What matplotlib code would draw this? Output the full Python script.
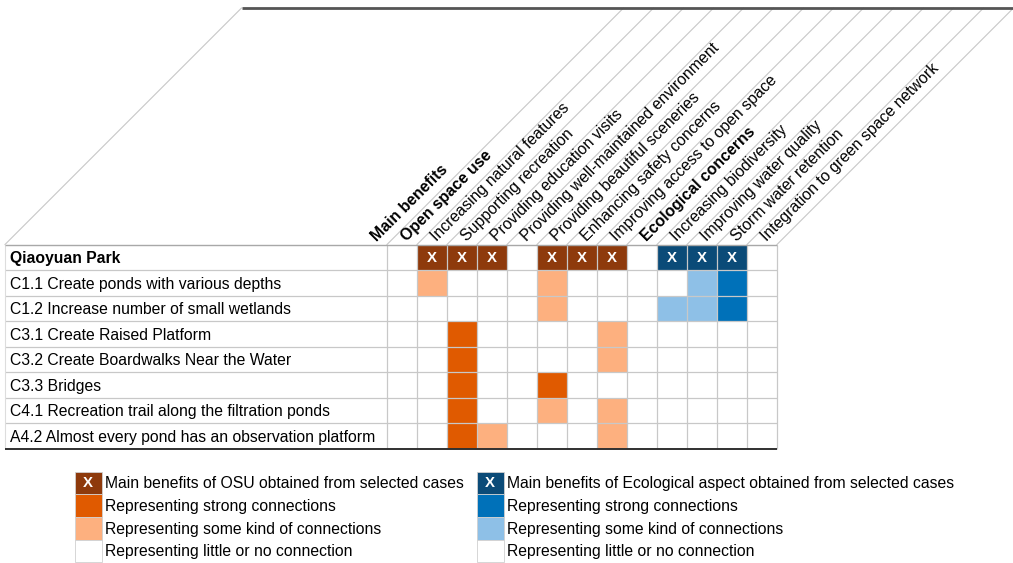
import numpy as np
import matplotlib
matplotlib.use("Agg")
import matplotlib.pyplot as plt
from matplotlib.colors import ListedColormap, BoundaryNorm
from matplotlib.patches import Rectangle

plt.rcParams['font.family'] = ['Liberation Sans', 'DejaVu Sans']

# ---- data ----
headers = ["Main benefits", "Open space use", "Increasing natural features",
           "Supporting recreation", "Providing education visits",
           "Providing well-maintained environment", "Providing beautiful sceneries",
           "Enhancing safety concerns", "Improving access to open space",
           "Ecological concerns", "Increasing biodiversity", "Improving water quality",
           "Storm water retention", "Integration to green space network"]
bold_headers = ["Main benefits", "Open space use", "Ecological concerns"]

row_labels = ["Qiaoyuan Park",
              "C1.1 Create ponds with various depths",
              "C1.2 Increase number of small wetlands",
              "C3.1 Create Raised Platform",
              "C3.2 Create Boardwalks Near the Water",
              "C3.3 Bridges",
              "C4.1 Recreation trail along the filtration ponds",
              "A4.2 Almost every pond has an observation platform"]

# 0 = little/no, 1 = some, 2 = strong, 3 = main benefit (X)
levels = np.array([
    [0, 3, 3, 3, 0, 3, 3, 3, 0, 3, 3, 3, 0],
    [0, 1, 0, 0, 0, 1, 0, 0, 0, 0, 1, 2, 0],
    [0, 0, 0, 0, 0, 1, 0, 0, 0, 1, 1, 2, 0],
    [0, 0, 2, 0, 0, 0, 0, 1, 0, 0, 0, 0, 0],
    [0, 0, 2, 0, 0, 0, 0, 1, 0, 0, 0, 0, 0],
    [0, 0, 2, 0, 0, 2, 0, 0, 0, 0, 0, 0, 0],
    [0, 0, 2, 0, 0, 1, 0, 1, 0, 0, 0, 0, 0],
    [0, 0, 2, 1, 0, 0, 0, 1, 0, 0, 0, 0, 0],
])
# column group: 0 = open space use (orange), 1 = ecological (blue)
col_group = np.array([0, 0, 0, 0, 0, 0, 0, 0, 1, 1, 1, 1, 1])

legend_osu = ["Main benefits of OSU obtained from selected cases",
              "Representing strong connections",
              "Representing some kind of connections",
              "Representing little or no connection"]
legend_eco = ["Main benefits of Ecological aspect obtained from selected cases",
              "Representing strong connections",
              "Representing some kind of connections",
              "Representing little or no connection"]

# ---- colours ----
orange = ['#ffffff', '#fdb07f', '#e05a00', '#8e3a0c']
blue = ['#ffffff', '#8ec0e7', '#0071b9', '#0b4b78']
cmap = ListedColormap(orange + blue[1:])
norm = BoundaryNorm(np.arange(-0.5, 7.5), cmap.N)
cidx = levels + np.where((col_group[None, :] == 1) & (levels > 0), 3, 0)

grid_c = '#c8c8c8'

# ---- layout (pixels) ----
W, H = 1013, 563
tab_l, tab_r, tab_t, tab_b = 387, 777, 244.5, 448.5
left_edge = 5
head_h = 236.5

fig = plt.figure(figsize=(W / 100, H / 100), dpi=100)
ax = fig.add_axes([tab_l / W, 1 - tab_b / H, (tab_r - tab_l) / W, (tab_b - tab_t) / H])
ncol, nrow = levels.shape[1], levels.shape[0]
ax.set_xlim(0, ncol)
ax.set_ylim(nrow, 0)
ax.axis('off')
cw = (tab_r - tab_l) / ncol
rh = (tab_b - tab_t) / nrow
xl = (left_edge - tab_l) / cw

ax.pcolormesh(np.arange(ncol + 1), np.arange(nrow + 1), cidx, cmap=cmap, norm=norm,
              edgecolors='none', zorder=1)

# grid
ax.hlines(range(1, nrow), xl, ncol, color=grid_c, lw=0.9, clip_on=False, zorder=2)
ax.hlines(0, xl, ncol, color='#a8a8a8', lw=1.0, clip_on=False, zorder=3)
ax.hlines(nrow, xl, ncol, color='#303030', lw=1.4, clip_on=False, zorder=3)
ax.vlines(list(range(ncol + 1)), 0, nrow, color=grid_c, lw=0.9, clip_on=False, zorder=2)
ax.vlines(xl, 0, nrow, color='#dddddd', lw=0.8, clip_on=False, zorder=2)

# slanted header lines
dx, dy = head_h / cw, head_h / rh
for j in range(ncol + 1):
    ax.plot([j, j + dx], [0, -dy], color=grid_c, lw=0.8, clip_on=False, zorder=2)
ax.plot([xl, xl + dx], [0, -dy], color=grid_c, lw=0.8, clip_on=False, zorder=2)
ax.plot([xl + dx, ncol + dx], [-dy, -dy], color='#555555', lw=2.0, clip_on=False,
        solid_capstyle='butt', zorder=3)

# header labels
for k, lab in enumerate(headers):
    ax.text(k - 10.5 / cw, -2.5 / rh, lab, rotation=45, rotation_mode='anchor',
            ha='left', va='baseline', fontsize=11.4,
            fontweight='bold' if lab in bold_headers else 'normal', color='black')

# row labels
for i, lab in enumerate(row_labels):
    ax.text((10 - tab_l) / cw, i + 0.56, lab, ha='left', va='center', fontsize=11.3,
            fontweight='bold' if i == 0 else 'normal', color='black')

# X marks
for i in range(nrow):
    for j in range(ncol):
        if levels[i, j] == 3:
            ax.text(j + 0.5, i + 0.52, 'X', ha='center', va='center', color='white',
                    fontsize=10.8, fontweight='bold')

# ---- legend ----
lax = fig.add_axes([0, 0, 1, 1], zorder=-1)
lax.set_xlim(0, W)
lax.set_ylim(H, 0)
lax.axis('off')
box_w, box_h, leg_top = 26.5, 22.7, 471.5
for x0, pal, texts in [(75, orange, legend_osu), (477, blue, legend_eco)]:
    for r, t in enumerate(texts):
        c = pal[3 - r]
        y0 = leg_top + r * box_h
        lax.add_patch(Rectangle((x0, y0), box_w, box_h, facecolor=c,
                                edgecolor='#d0d0d0', lw=0.6))
        if r == 0:
            lax.text(x0 + box_w / 2, y0 + box_h / 2 + 0.5, 'X', ha='center', va='center',
                     color='white', fontsize=10.8, fontweight='bold')
        lax.text(x0 + box_w + 3.5, y0 + box_h / 2 + 1, t, ha='left', va='center',
                 fontsize=11.3, color='black')

fig.savefig('out.png', dpi=100)
